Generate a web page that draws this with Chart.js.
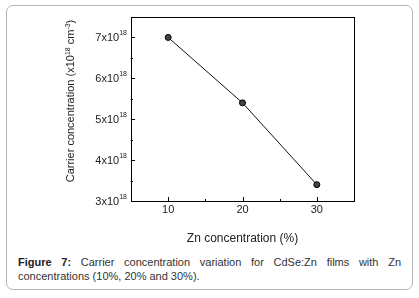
<!DOCTYPE html>
<html>
<head>
<meta charset="utf-8">
<script src="https://cdn.jsdelivr.net/npm/chart.js@4"></script>
<style>
  body { margin: 0; background: #fff; font-family: "Liberation Sans", Arial, sans-serif; }
  .fig {
    position: absolute; left: 6px; top: 5px; width: 405px; height: 283px;
    border: 1px solid #b4b4b4; border-radius: 7px;
  }
  .wrap { position: absolute; left: 0; top: 0; width: 419px; height: 250px; }
  .caption {
    position: absolute; left: 18px; top: 255px; width: 383px;
    font-size: 11px; line-height: 14px; color: #333; text-align: justify;
    text-align-last: left;
  }
  .caption b { color: #222; }
</style>
</head>
<body>
<div class="fig"></div>
<div class="wrap"><canvas id="myChart" width="419" height="250"></canvas></div>
<div class="caption"><b>Figure 7:</b> Carrier concentration variation for CdSe:Zn films with Zn concentrations (10%, 20% and 30%).</div>
<script>
const znConc = [10, 20, 30];
const carrier = [7.0, 5.4, 3.4]; // x10^18 cm^-3
const xTicks = [10, 20, 30];
const xMinor = [15, 25];
const yTicks = [3, 4, 5, 6, 7];
const yMinor = [3.5, 4.5, 5.5, 6.5];

const font = '"Liberation Sans", Arial, sans-serif';

// frame, inward ticks and labels with superscripts
const axisDecor = {
  id: "axisDecor",
  afterDraw(chart) {
    const ctx = chart.ctx;
    const a = chart.chartArea;
    const xs = chart.scales.x;
    const ys = chart.scales.y;
    ctx.save();
    ctx.strokeStyle = "#000";
    ctx.lineWidth = 1;
    ctx.strokeRect(Math.round(a.left) + 0.5, Math.round(a.top) + 0.5,
      Math.round(a.right - a.left), Math.round(a.bottom - a.top));

    ctx.beginPath();
    xTicks.forEach((v) => {
      const px = Math.round(xs.getPixelForValue(v)) + 0.5;
      ctx.moveTo(px, a.bottom); ctx.lineTo(px, a.bottom - 4);
    });
    xMinor.forEach((v) => {
      const px = Math.round(xs.getPixelForValue(v)) + 0.5;
      ctx.moveTo(px, a.bottom); ctx.lineTo(px, a.bottom - 2);
    });
    yTicks.forEach((v) => {
      const py = Math.round(ys.getPixelForValue(v)) + 0.5;
      ctx.moveTo(a.left, py); ctx.lineTo(a.left + 4, py);
    });
    yMinor.forEach((v) => {
      const py = Math.round(ys.getPixelForValue(v)) + 0.5;
      ctx.moveTo(a.left, py); ctx.lineTo(a.left + 2, py);
    });
    ctx.stroke();

    ctx.fillStyle = "#222";
    // x tick labels
    ctx.font = "11px " + font;
    ctx.textAlign = "center";
    ctx.textBaseline = "top";
    xTicks.forEach((v) => {
      ctx.fillText(String(v), xs.getPixelForValue(v), a.bottom + 3);
    });

    // y tick labels: "7x10" + superscript 18
    ctx.textBaseline = "alphabetic";
    yTicks.forEach((v) => {
      const py = ys.getPixelForValue(v);
      ctx.font = "7px " + font;
      const sw = ctx.measureText("18").width;
      ctx.textAlign = "right";
      ctx.fillText("18", a.left - 4, py - 2);
      ctx.font = "11px " + font;
      ctx.fillText(v + "x10", a.left - 4 - sw, py + 4);
    });

    // x title
    ctx.font = "12px " + font;
    ctx.textAlign = "center";
    ctx.fillText("Zn concentration (%)", (a.left + a.right) / 2, 242);

    // y title, rotated
    const parts = [
      ["Carrier concentration (x10", 11, 0],
      ["18", 7, -4],
      [" cm", 11, 0],
      ["-3", 7, -4],
      [")", 11, 0],
    ];
    let total = 0;
    parts.forEach((p) => { ctx.font = p[1] + "px " + font; total += ctx.measureText(p[0]).width; });
    ctx.translate(74, 101);
    ctx.rotate(-Math.PI / 2);
    ctx.textAlign = "left";
    let x = -total / 2;
    parts.forEach((p) => {
      ctx.font = p[1] + "px " + font;
      ctx.fillText(p[0], x, p[2]);
      x += ctx.measureText(p[0]).width;
    });
    ctx.restore();
  },
};

const ctx = document.getElementById("myChart").getContext("2d");
const myChart = new Chart(ctx, {
  type: "scatter",
  data: {
    datasets: [
      {
        data: znConc.map((v, i) => ({ x: v, y: carrier[i] })),
        showLine: true,
        borderColor: "#111",
        borderWidth: 1,
        pointRadius: 3,
        pointBackgroundColor: "#444",
        pointBorderColor: "#000",
        pointBorderWidth: 1,
      },
    ],
  },
  options: {
    responsive: false,
    animation: false,
    layout: { padding: { left: 123, top: 17, right: 65, bottom: 41 } },
    plugins: { legend: { display: false }, tooltip: { enabled: false } },
    scales: {
      x: {
        type: "linear",
        min: 5,
        max: 35,
        ticks: { display: false },
        grid: { display: false },
        border: { display: false },
      },
      y: {
        min: 3,
        max: 7.5,
        ticks: { display: false },
        grid: { display: false },
        border: { display: false },
      },
    },
  },
  plugins: [axisDecor],
});
</script>
</body>
</html>
